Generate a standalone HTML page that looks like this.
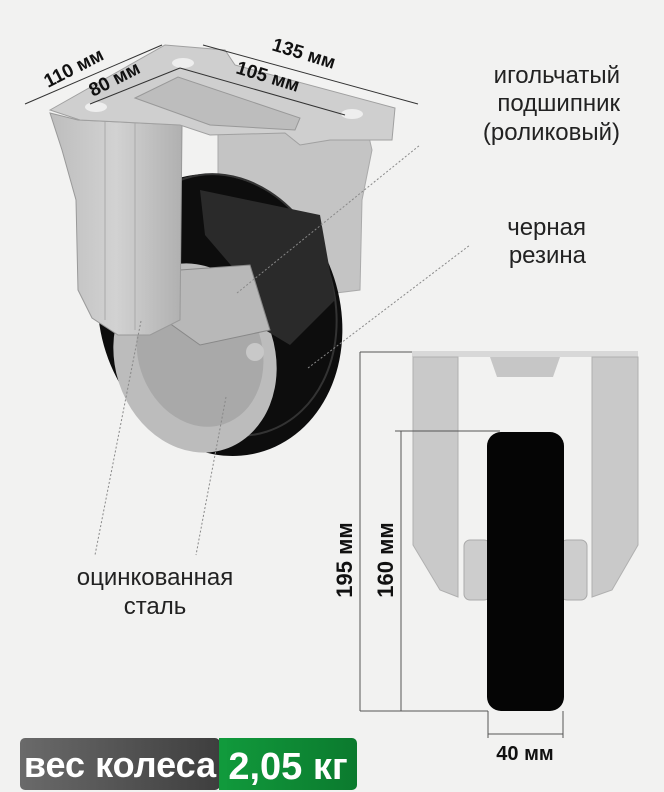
<!DOCTYPE html>
<html><head><meta charset="utf-8"><style>
body{margin:0;background:#f2f2f1;}
svg{display:block}
text{font-family:"Liberation Sans",sans-serif}
</style></head><body>
<svg width="664" height="792" viewBox="0 0 664 792">
<defs>
<linearGradient id="g1" x1="0" x2="1"><stop offset="0" stop-color="#bdbdbd"/><stop offset=".5" stop-color="#d2d2d2"/><stop offset="1" stop-color="#b0b0b0"/></linearGradient>
<linearGradient id="dk" x1="0" x2="1"><stop offset="0" stop-color="#6a6a6a"/><stop offset="1" stop-color="#3e3e3e"/></linearGradient>
<linearGradient id="gr" x1="0" x2="1"><stop offset="0" stop-color="#119a3c"/><stop offset="1" stop-color="#0b7a2e"/></linearGradient>
</defs>
<rect width="664" height="792" fill="#f2f2f1"/>
<path d="M218 130 L365 120 L372 150 L362 200 L360 290 L320 295 L218 290 Z" fill="#c4c4c4" stroke="#aaa"/>
<ellipse cx="220" cy="315" rx="120" ry="143" transform="rotate(-18 220 315)" fill="#0d0d0d"/>
<ellipse cx="226" cy="305" rx="108" ry="133" transform="rotate(-18 226 305)" fill="none" stroke="#333" stroke-width="2"/>
<ellipse cx="195" cy="358" rx="80" ry="96" transform="rotate(-18 195 358)" fill="#bcbcbc"/>
<ellipse cx="200" cy="352" rx="62" ry="76" transform="rotate(-18 200 352)" fill="#a9a9a9"/>
<path d="M200 190 L320 215 L335 300 L290 345 L265 330 L235 270 L205 235 Z" fill="#2a2a2a"/>
<path d="M180 270 L250 265 L270 330 L200 345 L165 320 Z" fill="#b8b8b8" stroke="#888"/>
<circle cx="255" cy="352" r="9" fill="#c8c8c8"/>
<path d="M50 113 L78 120 L182 125 L180 320 L150 335 L118 335 L92 318 L78 290 L76 200 L62 150 Z" fill="url(#g1)" stroke="#999"/>
<line x1="105" y1="120" x2="105" y2="320" stroke="#aaa"/>
<line x1="135" y1="122" x2="135" y2="330" stroke="#aaa"/>
<path d="M50 110 L165 45 L225 50 L235 65 L395 108 L392 140 L330 140 L300 145 L285 133 L210 135 L180 125 L80 120 Z" fill="#cfcfcf" stroke="#a0a0a0"/>
<path d="M135 98 L178 77 L300 118 L295 130 L210 125 Z" fill="#bdbdbd" stroke="#999"/>
<ellipse cx="96" cy="107" rx="11" ry="5" fill="#eee"/><ellipse cx="183" cy="63" rx="11" ry="5" fill="#eee"/><ellipse cx="352" cy="114" rx="11" ry="5" fill="#eee"/>
<g stroke="#333" stroke-width="1"><line x1="25" y1="104" x2="162" y2="45"/><line x1="90" y1="104" x2="180" y2="68"/><line x1="203" y1="45" x2="418" y2="104"/><line x1="180" y1="68" x2="345" y2="115"/></g>
<g font-weight="bold" font-size="19" fill="#111">
<text transform="translate(48,88) rotate(-27)">110 мм</text>
<text transform="translate(93,97) rotate(-27)">80 мм</text>
<text transform="translate(271,50) rotate(17)">135 мм</text>
<text transform="translate(235,73) rotate(17)">105 мм</text>
</g>
<g stroke="#888" stroke-width="1" stroke-dasharray="2 2" fill="none">
<line x1="237" y1="293" x2="420" y2="145"/><line x1="308" y1="368" x2="470" y2="245"/>
<line x1="141" y1="321" x2="95" y2="555"/><line x1="226" y1="397" x2="196" y2="555"/>
</g>
<g font-size="24" fill="#222">
<text x="620" y="83" text-anchor="end">игольчатый</text>
<text x="620" y="111" text-anchor="end">подшипник</text>
<text x="620" y="140" text-anchor="end">(роликовый)</text>
<text x="586" y="235" text-anchor="end">черная</text>
<text x="586" y="263" text-anchor="end">резина</text>
<text x="155" y="585" text-anchor="middle">оцинкованная</text>
<text x="155" y="614" text-anchor="middle">сталь</text>
</g>
<rect x="412" y="351" width="226" height="6" fill="#d8d8d8"/>
<path d="M490 357 L560 357 L553 377 L497 377 Z" fill="#c6c6c6"/>
<path d="M413 357 L458 357 L458 597 L440 590 L413 545 Z" fill="#c9c9c9" stroke="#b0b0b0"/>
<path d="M592 357 L638 357 L638 545 L612 590 L592 597 Z" fill="#c9c9c9" stroke="#b0b0b0"/>
<rect x="464" y="540" width="26" height="60" rx="6" fill="#cdcdcd" stroke="#aaa"/>
<rect x="561" y="540" width="26" height="60" rx="6" fill="#cdcdcd" stroke="#aaa"/>
<rect x="487" y="432" width="77" height="279" rx="14" fill="#050505"/>
<g stroke="#555" stroke-width="1">
<line x1="360" y1="352" x2="412" y2="352"/><line x1="360" y1="352" x2="360" y2="711"/><line x1="360" y1="711" x2="488" y2="711"/>
<line x1="395" y1="431" x2="500" y2="431"/><line x1="401" y1="431" x2="401" y2="711"/>
<line x1="488" y1="711" x2="488" y2="738"/><line x1="563" y1="711" x2="563" y2="738"/><line x1="488" y1="734" x2="563" y2="734"/>
</g>
<g font-weight="bold" font-size="22" fill="#111">
<text transform="translate(352,560) rotate(-90)" text-anchor="middle">195 мм</text>
<text transform="translate(393,560) rotate(-90)" text-anchor="middle">160 мм</text>
</g>
<text x="525" y="760" font-weight="bold" font-size="20" text-anchor="middle" fill="#111">40 мм</text>
<rect x="20" y="738" width="200" height="52" rx="5" fill="url(#dk)"/>
<rect x="219" y="738" width="138" height="52" rx="5" fill="url(#gr)"/>
<rect x="219" y="738" width="8" height="52" fill="#119a3c"/>
<text x="120" y="777" font-weight="bold" font-size="36" fill="#fff" text-anchor="middle">вес колеса</text>
<text x="288" y="779" font-weight="bold" font-size="38" fill="#fff" text-anchor="middle">2,05 кг</text>
</svg>
</body></html>
